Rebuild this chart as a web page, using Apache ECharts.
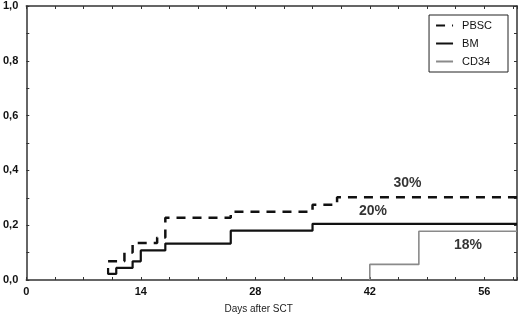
<!DOCTYPE html>
<html>
<head>
<meta charset="utf-8">
<script src="https://cdn.jsdelivr.net/npm/echarts@6/dist/echarts.min.js"></script>
<style>
  html, body { margin: 0; padding: 0; background: #fff; }
  #chart { width: 520px; height: 319px; }
</style>
</head>
<body>
<div id="chart"></div>
<script>
// cumulative incidence (step changes)
var pbscDays = [10, 12, 13, 16, 17, 25, 35, 38, 60];
var pbscVals = [0.068, 0.10, 0.135, 0.155, 0.227, 0.249, 0.275, 0.302, 0.302];

var bmDays = [10, 10, 11, 13, 14, 17, 25, 35, 60];
var bmVals = [0.044, 0.022, 0.044, 0.068, 0.108, 0.133, 0.18, 0.205, 0.205];

var cd34Days = [42, 42, 48, 60];
var cd34Vals = [0, 0.057, 0.178, 0.178];

// percentage annotations (data units)
var noteTexts = ['30%', '20%', '18%'];
var noteDays = [46.6, 42.4, 54];
var noteVals = [0.355, 0.253, 0.127];

var xTicks = [0, 14, 28, 42, 56];

function pairs(xs, ys) {
    return xs.map(function (x, i) { return [x, ys[i]]; });
}

var frameColor = '#333';
var tickFont = { fontFamily: 'Liberation Sans', fontWeight: 'bold', fontSize: 11, color: '#111' };

var chart = echarts.init(document.getElementById('chart'));
chart.setOption({
    animation: false,
    grid: { left: 25, right: 2, top: 6, bottom: 38.5 },
    legend: {
        orient: 'vertical',
        right: 12,
        top: 15,
        padding: [5, 16, 5, 6],
        itemWidth: 17,
        itemHeight: 12,
        itemGap: 7,
        borderColor: '#222',
        borderWidth: 1,
        itemStyle: { opacity: 0 },
        textStyle: { fontFamily: 'Liberation Sans', fontSize: 11, color: '#111', padding: [0, 0, 0, 4] },
        data: ['PBSC', 'BM', 'CD34']
    },
    xAxis: [{
        type: 'value',
        min: 0,
        max: 60,
        interval: 14,
        name: 'Days after SCT',
        nameLocation: 'middle',
        nameGap: 24,
        nameTextStyle: { fontFamily: 'Liberation Sans', fontSize: 10, color: '#222', padding: [0, 26, 0, 0] },
        axisLine: { lineStyle: { color: frameColor, width: 1.5 } },
        axisTick: { inside: true, length: 3, lineStyle: { color: frameColor } },
        minorTick: { show: true, splitNumber: 4, length: 3, lineStyle: { color: frameColor } },
        axisLabel: Object.assign({ margin: 6, formatter: function (v) { return xTicks.indexOf(v) >= 0 ? String(v) : ''; } }, tickFont),
        splitLine: { show: false }
    }, {
        type: 'value',
        position: 'top',
        min: 0,
        max: 60,
        interval: 14,
        axisLine: { show: true, onZero: false, lineStyle: { color: frameColor, width: 1.5 } },
        axisTick: { inside: true, length: 3, lineStyle: { color: frameColor } },
        minorTick: { show: true, splitNumber: 4, length: 3, lineStyle: { color: frameColor } },
        axisLabel: { show: false },
        splitLine: { show: false }
    }],
    yAxis: [{
        type: 'value',
        min: 0,
        max: 1,
        interval: 0.2,
        axisLine: { show: true, lineStyle: { color: frameColor, width: 1.5 } },
        axisTick: { show: true, inside: true, length: 3, lineStyle: { color: frameColor } },
        minorTick: { show: true, splitNumber: 2, length: 3, lineStyle: { color: frameColor } },
        axisLabel: Object.assign({ margin: 8, formatter: function (v) { return v.toFixed(1).replace('.', ','); } }, tickFont),
        splitLine: { show: false }
    }, {
        type: 'value',
        position: 'right',
        min: 0,
        max: 1,
        interval: 0.2,
        axisLine: { show: true, onZero: false, lineStyle: { color: frameColor, width: 1.5 } },
        axisTick: { show: true, inside: true, length: 3, lineStyle: { color: frameColor } },
        minorTick: { show: true, splitNumber: 2, length: 3, lineStyle: { color: frameColor } },
        axisLabel: { show: false },
        splitLine: { show: false }
    }],
    series: [{
        name: 'PBSC',
        type: 'line',
        step: 'end',
        symbol: 'none',
        color: '#111',
        lineStyle: { color: '#111', width: 2.5, type: [9, 7] },
        data: pairs(pbscDays, pbscVals)
    }, {
        name: 'BM',
        type: 'line',
        step: 'end',
        symbol: 'none',
        color: '#111',
        lineStyle: { color: '#111', width: 2.2 },
        data: pairs(bmDays, bmVals)
    }, {
        name: 'CD34',
        type: 'line',
        step: 'end',
        symbol: 'none',
        color: '#8a8a8a',
        lineStyle: { color: '#8a8a8a', width: 1.6 },
        data: pairs(cd34Days, cd34Vals)
    }, {
        name: 'notes',
        type: 'scatter',
        symbolSize: 0,
        silent: true,
        label: {
            show: true,
            position: 'inside',
            fontFamily: 'Liberation Sans',
            fontWeight: 'bold',
            fontSize: 14,
            color: '#000',
            formatter: function (p) { return p.data[2]; }
        },
        data: noteDays.map(function (d, i) { return [d, noteVals[i], noteTexts[i]]; })
    }]
});
</script>
</body>
</html>
